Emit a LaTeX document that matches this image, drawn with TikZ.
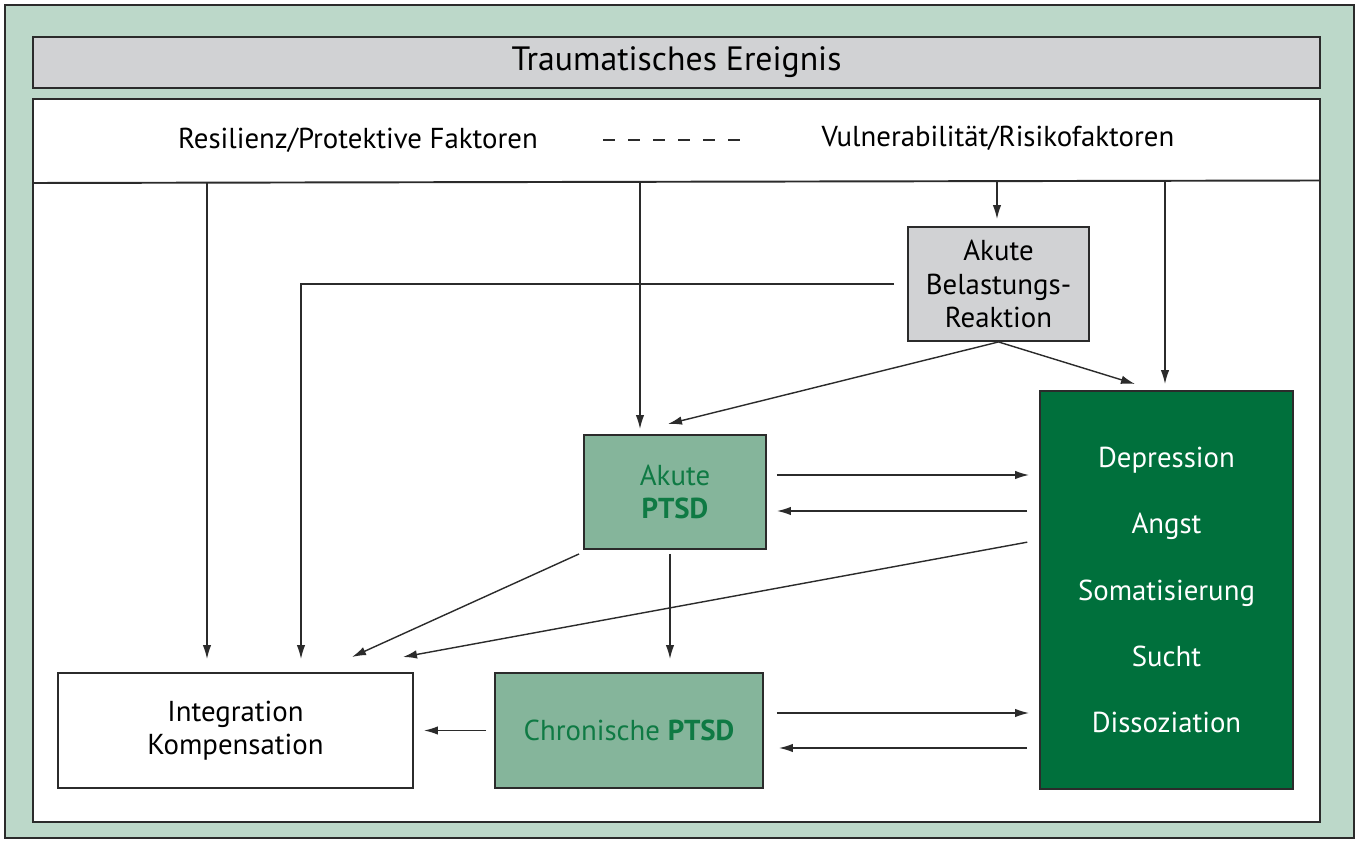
\documentclass[tikz,border=0pt]{standalone}
\usepackage{fontspec}
\setmainfont{PT Sans}
\usepackage{xcolor}
\usepackage{tikz}
\usetikzlibrary{calc,arrows.meta}
\definecolor{frameGreen}{HTML}{BCD8C9}
\definecolor{boxGrey}{HTML}{D1D2D4}
\definecolor{midGreen}{HTML}{85B59B}
\definecolor{darkGreen}{HTML}{00703C}
\definecolor{textGreen}{HTML}{0F7A44}
\definecolor{lineGrey}{HTML}{2B2B2B}

\begin{document}
\begin{tikzpicture}[-,auto,
                    font=\fontsize{16.4}{19}\selectfont,
                    box/.style={rectangle,draw=lineGrey,line width=1.1pt,inner sep=0pt,align=center},
                    grey node/.style={box,fill=boxGrey},
                    green node/.style={box,fill=midGreen,text=textGreen},
                    dark node/.style={box,fill=darkGreen,text=white},
                    arr/.style={-{Latex[length=0.28cm,width=0.17cm]},line width=0.8pt,draw=lineGrey}]

%DRAWING Frame

 \useasboundingbox (0,0) rectangle (27.18,-16.84);
 \draw[fill=frameGreen,draw=lineGrey,line width=0.8pt] (0.1,-0.1) rectangle (27.08,-16.76);

 \node[grey node,minimum width=25.74cm,minimum height=1.02cm,font=\fontsize{19.2}{22}\selectfont] (Event) at (13.53,-1.25) {Traumatisches Ereignis};
 \draw[fill=white,draw=lineGrey,line width=1.1pt] (0.66,-1.98) rectangle (26.4,-16.44);
 \draw[draw=lineGrey,line width=1.1pt] (0.66,-3.66)--(26.4,-3.61);

%Factors

 \node (Resilience) at (7.16,-2.80) {Resilienz/Protektive Faktoren};
 \node (Vulnerability) at (19.96,-2.76) {Vulnerabilität/Risikofaktoren};
 \coordinate (DashStart) at (12.06,-2.80);
 \coordinate (DashEnd) at (14.82,-2.80);
 \draw[draw=lineGrey,line width=0.8pt,dash pattern=on 0.24cm off 0.26cm] (DashStart)--(DashEnd);

%Boxes

 \node[grey node,minimum width=3.62cm,minimum height=2.28cm] (ABR) at (19.97,-5.68) {Akute\\Belastungs-\\Reaktion};
 \node[green node,minimum width=3.64cm,minimum height=2.28cm] (AcutePTSD) at (13.5,-9.84) {Akute\\\textbf{PTSD}};
 \node[dark node,minimum width=5.06cm,minimum height=7.96cm] (Comorb) at (23.33,-11.8)
   {Depression\\[0.66cm]Angst\\[0.66cm]Somatisierung\\[0.66cm]Sucht\\[0.66cm]Dissoziation};
 \node[box,fill=white,minimum width=7.1cm,minimum height=2.3cm] (Integration) at (4.71,-14.61) {Integration\\Kompensation};
 \node[green node,minimum width=5.36cm,minimum height=2.3cm] (ChronicPTSD) at (12.58,-14.61) {Chronische \textbf{PTSD}};

%Arrows from the factor line

 \coordinate (Line1) at (4.14,-3.65);
 \coordinate (Line2) at (12.8,-3.64);
 \coordinate (Line3) at (19.94,-3.63);
 \coordinate (Line4) at (23.3,-3.62);
 \draw[arr,shorten >=0.26cm] (Line1)--(Line1 |- Integration.north);
 \draw[arr,shorten >=0.1cm] (Line2)--(Line2 |- AcutePTSD.north);
 \draw[arr,shorten >=0.14cm] (Line3)--(Line3 |- ABR.north);
 \draw[arr,shorten >=0.12cm] (Line4)--(Line4 |- Comorb.north);

%Acute stress reaction

 \coordinate (Corner) at (6.02,-5.68);
 \draw[arr,shorten >=0.26cm] ([xshift=-0.26cm]ABR.west)--(Corner)--(Corner |- Integration.north);
 \coordinate (ToAcute) at (13.36,-8.48);
 \coordinate (ToComorb) at (22.7,-7.68);
 \draw[arr] (ABR.south)--(ToAcute);
 \draw[arr] (ABR.south)--(ToComorb);

%Acute PTSD

 \draw[arr,shorten <=0.2cm,shorten >=0.2cm] ([yshift=0.34cm]AcutePTSD.east)--([yshift=0.34cm]AcutePTSD.east -| Comorb.west);
 \draw[arr,shorten <=0.24cm,shorten >=0.2cm] ([yshift=-0.38cm]AcutePTSD.east -| Comorb.west)--([yshift=-0.38cm]AcutePTSD.east);
 \coordinate (ToIntegA) at (7.04,-13.14);
 \coordinate (ToIntegB) at (8.06,-13.14);
 \draw[arr] ([shift={(-0.08cm,-0.08cm)}]AcutePTSD.south west)--(ToIntegA);
 \draw[arr,shorten >=0.26cm] ([xshift=-0.1cm,yshift=-0.08cm]AcutePTSD.south)--([xshift=-0.1cm]AcutePTSD.south |- ChronicPTSD.north);
 \draw[arr,shorten <=0.24cm] (Comorb.west |- 0,-10.8)--(ToIntegB);

%Chronic PTSD

 \draw[arr,shorten <=0.16cm,shorten >=0.2cm] (ChronicPTSD.west)--(Integration.east);
 \draw[arr,shorten <=0.26cm,shorten >=0.2cm] ([yshift=0.35cm]ChronicPTSD.east)--([yshift=0.35cm]ChronicPTSD.east -| Comorb.west);
 \draw[arr,shorten <=0.24cm,shorten >=0.3cm] ([yshift=-0.35cm]ChronicPTSD.east -| Comorb.west)--([yshift=-0.35cm]ChronicPTSD.east);

\end{tikzpicture}
\end{document}
